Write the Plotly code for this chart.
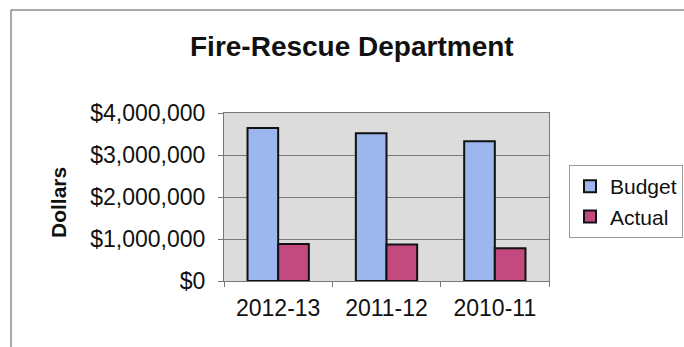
import plotly.graph_objects as go

# Fiscal years and amounts (dollars)
years = ["2012-13", "2011-12", "2010-11"]
budget = [3640000, 3520000, 3330000]
actual = [880000, 870000, 780000]
y_ticks = [0, 1000000, 2000000, 3000000, 4000000]
y_tick_labels = ["$0", "$1,000,000", "$2,000,000", "$3,000,000", "$4,000,000"]

FONT = "Liberation Sans, Arial, sans-serif"

fig = go.Figure()
fig.add_trace(go.Bar(
    x=years, y=budget, name="Budget",
    marker=dict(color="#9cb6ee", line=dict(color="#111111", width=2)),
))
fig.add_trace(go.Bar(
    x=years, y=actual, name="Actual",
    marker=dict(color="#c24a7e", line=dict(color="#111111", width=2)),
))

W, H = 684, 347
L, R, T, B = 224, 135, 113, 66
pw, ph = W - L - R, H - T - B

def px(x):
    return (x - L) / pw

def py(y):
    return (H - B - y) / ph

fig.update_layout(
    width=W, height=H,
    margin=dict(l=L, r=R, t=T, b=B, autoexpand=False),
    paper_bgcolor="white",
    plot_bgcolor="#dcdcdc",
    barmode="group",
    bargap=0.434,
    bargroupgap=0,
    font=dict(family=FONT, color="#111111"),
    showlegend=True,
    legend=dict(
        x=px(569), y=py(165), xanchor="left", yanchor="top",
        bgcolor="white", bordercolor="#999999", borderwidth=1,
        font=dict(size=21, family=FONT, color="#111111"),
        tracegroupgap=0,
    ),
    xaxis=dict(
        type="category", automargin=False,
        showline=True, linecolor="#777777", linewidth=1, mirror=True,
        ticks="outside", tickson="boundaries", ticklen=5, tickcolor="#777777",
        tickfont=dict(size=23, family=FONT, color="#111111"),
        tickangle=0, ticklabelstandoff=6,
        showgrid=False,
    ),
    yaxis=dict(
        range=[0, 4000000], automargin=False,
        tickmode="array", tickvals=y_ticks, ticktext=y_tick_labels,
        showline=True, linecolor="#777777", linewidth=1, mirror=True,
        ticks="outside", ticklen=5, tickcolor="#777777",
        tickfont=dict(size=23, family=FONT, color="#111111"),
        ticklabelstandoff=8,
        showgrid=True, gridcolor="#7a7a7a", gridwidth=1,
        zeroline=False,
    ),
    annotations=[
        dict(text="<b>Fire-Rescue Department</b>", xref="paper", yref="paper",
             x=px(352), y=py(46), xanchor="center", yanchor="middle",
             showarrow=False, font=dict(size=28, family=FONT, color="#111111")),
        dict(text="<b>Dollars</b>", xref="paper", yref="paper",
             x=px(58), y=py(203), xanchor="center", yanchor="middle",
             textangle=-90, showarrow=False,
             font=dict(size=21, family=FONT, color="#111111")),
    ],
    shapes=[
        dict(type="rect", xref="paper", yref="paper",
             x0=px(11), y0=py(360), x1=px(700), y1=py(10),
             line=dict(color="#555555", width=1), fillcolor="rgba(0,0,0,0)",
             layer="below"),
    ],
)

fig.write_html("out.html")
